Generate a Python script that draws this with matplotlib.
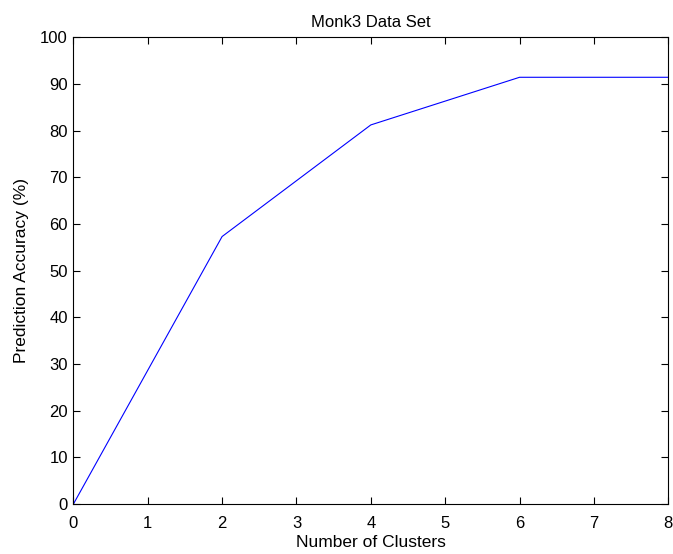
import matplotlib
matplotlib.use('Agg')
import matplotlib.pyplot as plt

# Данные
clusters = [0, 2, 4, 6, 8]
accuracy = [0, 57.3, 81.2, 91.4, 91.4]

plt.rcParams['font.family'] = ['Liberation Sans', 'DejaVu Sans']
plt.rcParams['font.size'] = 12

fig = plt.figure(figsize=(6.73, 5.54), dpi=100)
ax = fig.add_axes([0.109, 0.090, 0.884, 0.843])

ax.plot(clusters, accuracy, color='blue', linewidth=0.8)

ax.set_xlim(0, 8)
ax.set_ylim(0, 100)
ax.set_xticks(range(0, 9))
ax.set_yticks(range(0, 101, 10))
ax.tick_params(direction='in', top=True, right=True, length=5, width=0.8)
ax.tick_params(axis='x', pad=8.5)
ax.tick_params(axis='y', pad=4)
for s in ax.spines.values():
    s.set_linewidth(0.8)

ax.set_title('Monk3 Data Set', fontsize=12, pad=7)
ax.set_xlabel('Number of Clusters', fontsize=12.5, labelpad=3)
ax.set_ylabel('Prediction Accuracy (%)', fontsize=12.5, labelpad=8)

fig.savefig('out.png', dpi=100)
